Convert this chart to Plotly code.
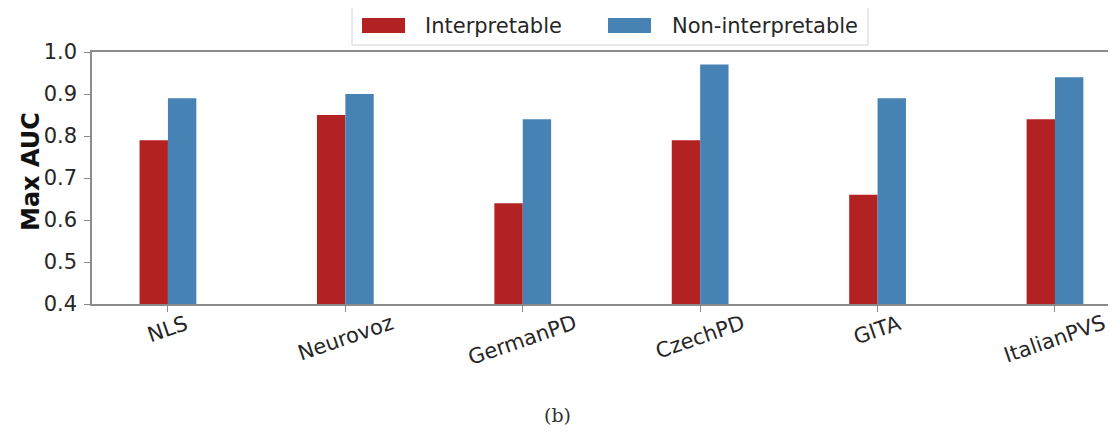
import plotly.graph_objects as go

categories = ["NLS", "Neurovoz", "GermanPD", "CzechPD", "GITA", "ItalianPVS"]
interpretable = [0.79, 0.85, 0.64, 0.79, 0.66, 0.84]
non_interpretable = [0.89, 0.90, 0.84, 0.97, 0.89, 0.94]
y_ticks = [0.4, 0.5, 0.6, 0.7, 0.8, 0.9, 1.0]
series_names = ["Interpretable", "Non-interpretable"]
series_colors = ["#b22222", "#4682b4"]

x_idx = list(range(len(categories)))

# page body has an 8px margin; figure sized so the plot reaches the window edge
OFF = 8
W, H = 1116 - OFF, 434 - OFF
L, R, T, B = 92 - OFF, 0, 52 - OFF, 130
PW, PH = W - L - R, H - T - B


def px_x(sx):
    # screen x -> paper x
    return (sx - OFF - L) / PW


def px_y(sy):
    # screen y -> paper y
    return (H - B - (sy - OFF)) / PH


fig = go.Figure()
for name, vals, col in zip(series_names, [interpretable, non_interpretable], series_colors):
    fig.add_trace(go.Bar(x=x_idx, y=vals, name=name, showlegend=False,
                         marker=dict(color=col, line=dict(width=0))))

axis_col = "#8a8a8a"
txt_col = "#262626"
tick_font = dict(family="DejaVu Sans", size=21, color=txt_col)

annotations = []
# rotated category labels, centred under each tick (matplotlib style)
for i, c in enumerate(categories):
    annotations.append(dict(text=c, x=i, xref="x", y=px_y(308), yref="paper",
                            showarrow=False, textangle=-19, xanchor="center",
                            yanchor="top", font=tick_font))

# y-axis title
annotations.append(dict(text="<b>Max AUC</b>", x=px_x(31), y=px_y(172), xref="paper",
                        yref="paper", showarrow=False, textangle=-90,
                        xanchor="center", yanchor="middle",
                        font=dict(family="DejaVu Sans", size=24, color="#111111")))

# legend (matplotlib-style patches)
shapes = [dict(type="rect", xref="paper", yref="paper",
               x0=px_x(352), x1=px_x(868), y0=px_y(45), y1=px_y(7),
               line=dict(color="#d4d4d4", width=1), fillcolor="white", layer="above")]
patch_x = [(362, 405, 423), (608, 651, 670)]
for (x0, x1, tx), name, col in zip(patch_x, series_names, series_colors):
    shapes.append(dict(type="rect", xref="paper", yref="paper",
                       x0=px_x(x0), x1=px_x(x1), y0=px_y(33), y1=px_y(18),
                       line=dict(width=0), fillcolor=col, layer="above"))
    annotations.append(dict(text=name, x=px_x(tx), y=px_y(26), xref="paper", yref="paper",
                            showarrow=False, xanchor="left", yanchor="middle",
                            font=dict(family="DejaVu Sans", size=21, color=txt_col)))

annotations.append(dict(text="(b)", x=px_x(557), y=px_y(415), xref="paper", yref="paper",
                        showarrow=False, xanchor="center", yanchor="middle",
                        font=dict(family="DejaVu Serif", size=19, color="#333333")))

fig.update_layout(
    width=W, height=H,
    margin=dict(l=L, r=R, t=T, b=B, autoexpand=False),
    paper_bgcolor="white", plot_bgcolor="white",
    barmode="group", bargap=0.68, bargroupgap=0,
    showlegend=False,
    xaxis=dict(range=[-0.428, 5.344], tickmode="array", tickvals=x_idx,
               showticklabels=False, automargin=False,
               showline=True, linecolor=axis_col, linewidth=1.5, mirror=True,
               ticks="outside", ticklen=6, tickcolor=axis_col, showgrid=False,
               zeroline=False),
    yaxis=dict(range=[0.4, 1.0], tickmode="array", tickvals=y_ticks,
               ticktext=[f"{v:.1f}" for v in y_ticks], tickfont=tick_font,
               automargin=False, ticklabelstandoff=3,
               showline=True, linecolor=axis_col, linewidth=1.5,
               ticks="outside", ticklen=6, tickcolor=axis_col, showgrid=False,
               zeroline=False),
    shapes=shapes,
    annotations=annotations,
)

fig.write_html("out.html")
